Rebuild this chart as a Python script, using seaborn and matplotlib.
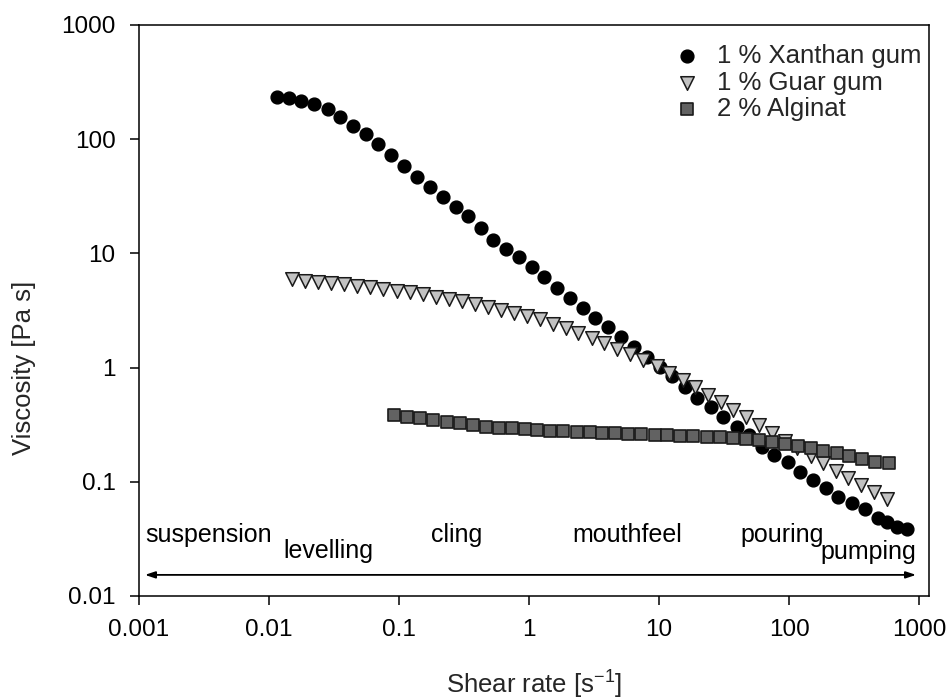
import matplotlib
matplotlib.use("Agg")
import matplotlib.pyplot as plt
import seaborn as sns
from matplotlib.ticker import FixedLocator, FixedFormatter, NullLocator

# ---- measured flow curves -------------------------------------------------
xanthan_rate = [0.0115, 0.0143, 0.0176, 0.0222, 0.0284, 0.0352, 0.0443, 0.0557, 0.069, 0.0868,
                0.109, 0.1375, 0.173, 0.218, 0.2745, 0.34, 0.427, 0.5285, 0.665, 0.838,
                1.055, 1.30, 1.64, 2.07, 2.60, 3.22, 4.05, 5.10, 6.42, 8.09,
                10.2, 12.6, 15.9, 19.6, 25.1, 31.1, 39.8, 49.2, 62.0, 76.7,
                98.2, 121.5, 153, 193, 238, 305, 384, 484, 567, 677, 809]
xanthan_visc = [235.6, 228.1, 216.0, 202.1, 182.7, 157.4, 131.3, 110.4, 90.2, 72.7,
                58.3, 46.95, 38.38, 31.37, 25.64, 21.26, 16.69, 13.10, 10.93, 9.30,
                7.60, 6.21, 4.98, 4.07, 3.33, 2.72, 2.27, 1.85, 1.515, 1.238,
                1.012, 0.844, 0.676, 0.542, 0.452, 0.369, 0.302, 0.257, 0.2017, 0.1717,
                0.149, 0.1218, 0.1037, 0.0882, 0.0736, 0.0652, 0.0578, 0.0482, 0.0445, 0.0402, 0.0386]

guar_rate = [0.01495, 0.0189, 0.0237, 0.0298, 0.0378, 0.0473, 0.0598, 0.0757, 0.096, 0.1215,
             0.1538, 0.1926, 0.2424, 0.3036, 0.3842, 0.4812, 0.606, 0.767, 0.960, 1.215,
             1.521, 1.926, 2.394, 3.036, 3.775, 4.711, 5.981, 7.53, 9.57, 11.94,
             15.30, 18.91, 23.82, 29.99, 37.10, 46.70, 58.8, 74.0, 93.1, 115.2,
             147.6, 182.6, 229.8, 284.3, 357.9, 450.6, 567.4]
guar_visc = [5.93, 5.77, 5.62, 5.47, 5.36, 5.21, 5.05, 4.85, 4.69, 4.56,
             4.38, 4.18, 4.01, 3.83, 3.61, 3.42, 3.19, 2.99, 2.83, 2.65,
             2.41, 2.21, 2.00, 1.83, 1.63, 1.455, 1.302, 1.166, 1.033, 0.897,
             0.779, 0.676, 0.575, 0.500, 0.425, 0.369, 0.314, 0.268, 0.228, 0.198,
             0.168, 0.146, 0.1243, 0.108, 0.0938, 0.0814, 0.0707]

alginat_rate = [0.0920, 0.1158, 0.1450, 0.1836, 0.2327, 0.2945, 0.3727, 0.4669, 0.5877, 0.740,
                0.931, 1.158, 1.450, 1.836, 2.327, 2.945, 3.643, 4.586, 5.773, 7.268,
                9.23, 11.46, 14.50, 18.26, 23.27, 29.45, 37.10, 46.70, 58.8, 73.6,
                93.1, 116.7, 146.9, 183.6, 232.7, 290.9, 362.4, 458.6, 580.6]
alginat_visc = [0.3845, 0.3715, 0.3597, 0.3477, 0.3360, 0.3253, 0.3144, 0.3038, 0.2977, 0.2941,
                0.2882, 0.2842, 0.2802, 0.2768, 0.2730, 0.2713, 0.2675, 0.2648, 0.2622, 0.2596,
                0.2570, 0.2554, 0.2533, 0.2518, 0.2482, 0.2453, 0.2418, 0.2384, 0.2323, 0.2245,
                0.2143, 0.2059, 0.1965, 0.1872, 0.1777, 0.1682, 0.1574, 0.1500, 0.1452]

series_labels = ["1 % Xanthan gum", "1 % Guar gum", "2 % Alginat"]

# application ranges along the shear-rate axis: (text, x, y)
region_labels = ["suspension", "levelling", "cling", "mouthfeel", "pouring", "pumping"]
region_x = [0.00343, 0.0286, 0.275, 5.69, 89.0, 405.0]
region_y = [0.0299, 0.0214, 0.0299, 0.0299, 0.0299, 0.0212]
arrow_range = [0.00111, 946.0]
arrow_level = 0.0153

x_ticks = [0.001, 0.01, 0.1, 1, 10, 100, 1000]
x_ticklabels = ["0.001", "0.01", "0.1", "1", "10", "100", "1000"]
y_ticks = [0.01, 0.1, 1, 10, 100, 1000]
y_ticklabels = ["0.01", "0.1", "1", "10", "100", "1000"]

# ---- style ----------------------------------------------------------------
sns.set_style("ticks")
plt.rcParams["font.family"] = ["Liberation Sans", "DejaVu Sans"]
plt.rcParams["mathtext.fontset"] = "custom"
plt.rcParams["mathtext.rm"] = "Liberation Sans"
plt.rcParams["mathtext.default"] = "regular"

fig = plt.figure(figsize=(9.51, 7.00), dpi=100)
ax = fig.add_axes([0.1462, 0.1486, 0.8307, 0.8157])

marker_size = 85
sns.scatterplot(x=xanthan_rate, y=xanthan_visc, ax=ax, marker="o", color="black",
                edgecolor="black", linewidth=1.0, s=marker_size, label=series_labels[0], zorder=3)
sns.scatterplot(x=guar_rate, y=guar_visc, ax=ax, marker="v", color="#c2c2c2",
                edgecolor="#1a1a1a", linewidth=1.1, s=marker_size * 1.12, label=series_labels[1], zorder=4)
sns.scatterplot(x=alginat_rate, y=alginat_visc, ax=ax, marker="s", color="#626262",
                edgecolor="#1a1a1a", linewidth=1.2, s=marker_size * 0.9, label=series_labels[2], zorder=5)

ax.set_xscale("log")
ax.set_yscale("log")
ax.set_xlim(0.001, 1190)
ax.set_ylim(0.01, 1000)

ax.xaxis.set_major_locator(FixedLocator(x_ticks))
ax.xaxis.set_major_formatter(FixedFormatter(x_ticklabels))
ax.yaxis.set_major_locator(FixedLocator(y_ticks))
ax.yaxis.set_major_formatter(FixedFormatter(y_ticklabels))
ax.xaxis.set_minor_locator(NullLocator())
ax.yaxis.set_minor_locator(NullLocator())

ax.tick_params(axis="both", which="major", direction="out", length=6.5, width=1.1,
               color="black", labelsize=17.5, labelcolor="black")
ax.tick_params(axis="x", pad=10)
ax.tick_params(axis="y", pad=10.5)
for side in ["left", "right", "top", "bottom"]:
    ax.spines[side].set_visible(True)
    ax.spines[side].set_linewidth(1.1)
    ax.spines[side].set_color("black")

ax.set_xlabel("Shear rate [s$^{-1}$]", fontsize=18.5, va="center")
ax.xaxis.set_label_coords(0.5, -0.156)
ax.set_ylabel("Viscosity [Pa s]", fontsize=18.5, va="center")
ax.yaxis.set_label_coords(-0.1456, 0.40)

# application ranges
for text, xv, yv in zip(region_labels, region_x, region_y):
    ax.text(xv, yv, text, fontsize=18, ha="center", va="baseline", color="black", zorder=6)
ax.annotate("", xy=(arrow_range[1], arrow_level), xytext=(arrow_range[0], arrow_level),
            arrowprops=dict(arrowstyle="<|-|>,head_length=0.6,head_width=0.2",
                            color="black", lw=1.3, shrinkA=0, shrinkB=0, mutation_scale=10))

leg = ax.legend(loc="upper right", bbox_to_anchor=(0.991, 0.9667), frameon=False,
                fontsize=18.5, handlelength=1.0, handletextpad=0.7, labelspacing=0.1,
                borderpad=0, borderaxespad=0, scatterpoints=1)

fig.savefig("out.png", dpi=100, facecolor="white")
